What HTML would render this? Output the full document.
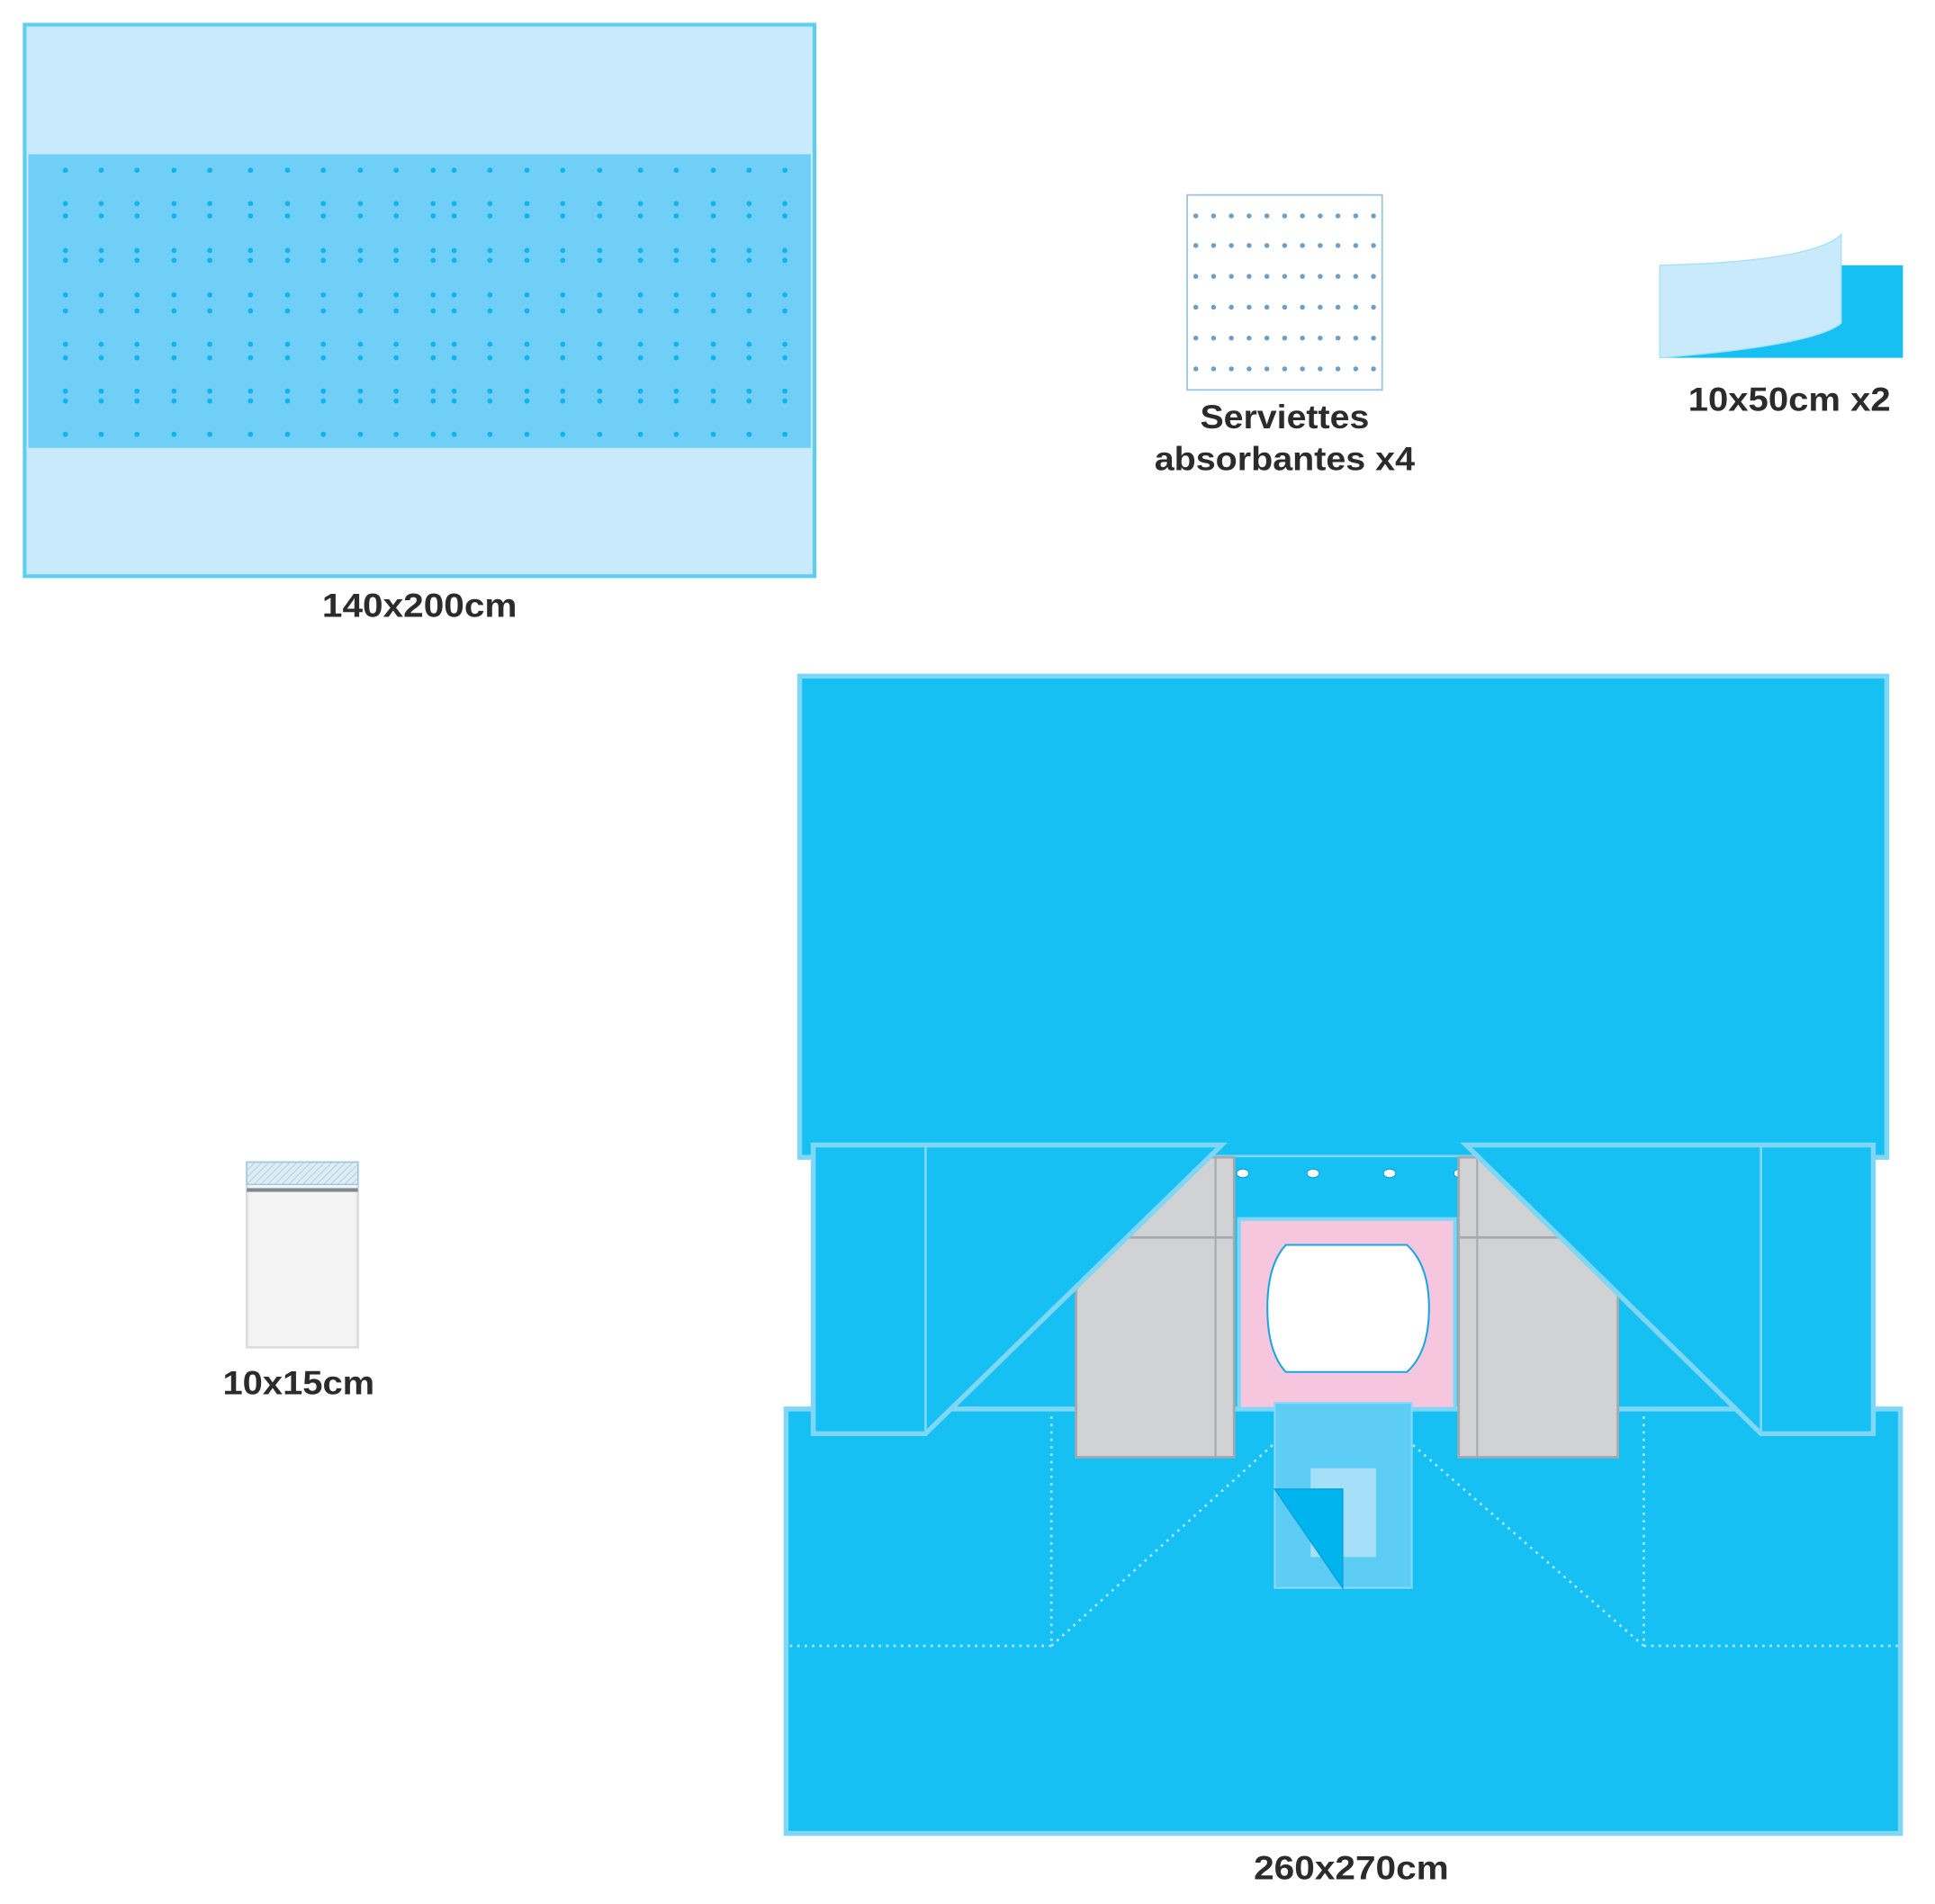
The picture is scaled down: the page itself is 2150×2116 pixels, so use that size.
<!DOCTYPE html>
<html><head><meta charset="utf-8"><style>html,body{margin:0;padding:0;background:#fff}svg{display:block}</style></head>
<body>
<svg width="2150" height="2116" viewBox="0 0 1568 1543.2" xmlns="http://www.w3.org/2000/svg" xmlns:xlink="http://www.w3.org/1999/xlink">
<defs>
<g id="row" fill="#12b3ec">
<circle cx="53" cy="0" r="2.1"/><circle cx="82" cy="0" r="2.1"/><circle cx="111" cy="0" r="2.1"/><circle cx="141" cy="0" r="2.1"/><circle cx="170" cy="0" r="2.1"/><circle cx="203" cy="0" r="2.1"/><circle cx="233" cy="0" r="2.1"/><circle cx="262" cy="0" r="2.1"/><circle cx="292" cy="0" r="2.1"/><circle cx="321" cy="0" r="2.1"/><circle cx="351" cy="0" r="2.1"/><circle cx="368" cy="0" r="2.1"/><circle cx="397" cy="0" r="2.1"/><circle cx="427" cy="0" r="2.1"/><circle cx="456" cy="0" r="2.1"/><circle cx="486" cy="0" r="2.1"/><circle cx="519" cy="0" r="2.1"/><circle cx="548" cy="0" r="2.1"/><circle cx="578" cy="0" r="2.1"/><circle cx="607" cy="0" r="2.1"/><circle cx="636" cy="0" r="2.1"/>
</g>
<g id="srow" fill="#6f9fc6">
<circle cx="969" cy="0" r="2"/><circle cx="983.4" cy="0" r="2"/><circle cx="997.8" cy="0" r="2"/><circle cx="1012.2" cy="0" r="2"/><circle cx="1026.6" cy="0" r="2"/><circle cx="1041" cy="0" r="2"/><circle cx="1055.4" cy="0" r="2"/><circle cx="1069.8" cy="0" r="2"/><circle cx="1084.2" cy="0" r="2"/><circle cx="1098.6" cy="0" r="2"/><circle cx="1113" cy="0" r="2"/>
</g>
<pattern id="hatch" width="4" height="4" patternUnits="userSpaceOnUse" patternTransform="rotate(45)">
<rect width="4" height="4" fill="#dcedf5"/><line x1="0" y1="0" x2="0" y2="4" stroke="#9dc3d4" stroke-width="1"/>
</pattern>
</defs>

<!-- 140x200 sheet -->
<rect x="20" y="20" width="640" height="447" fill="#c8eafb" stroke="#5ccdf3" stroke-width="3"/>
<rect x="23" y="125" width="634" height="238" fill="#6fcff6"/>
<use xlink:href="#row" y="138"/>
<use xlink:href="#row" y="165"/><use xlink:href="#row" y="175"/>
<use xlink:href="#row" y="203"/><use xlink:href="#row" y="211"/>
<use xlink:href="#row" y="239"/><use xlink:href="#row" y="252"/>
<use xlink:href="#row" y="279"/><use xlink:href="#row" y="290"/>
<use xlink:href="#row" y="317"/><use xlink:href="#row" y="325"/>
<use xlink:href="#row" y="352"/>
<text x="340" y="500" text-anchor="middle" font-family="Liberation Sans, sans-serif" font-weight="bold" font-size="27" fill="#2b2b2b" textLength="158" lengthAdjust="spacingAndGlyphs">140x200cm</text>

<!-- Serviettes -->
<rect x="962" y="158" width="158" height="158" fill="#fff" stroke="#9cc3de" stroke-width="1.3"/>
<use xlink:href="#srow" y="175"/><use xlink:href="#srow" y="199"/><use xlink:href="#srow" y="224"/><use xlink:href="#srow" y="249"/><use xlink:href="#srow" y="274"/><use xlink:href="#srow" y="299"/>
<text x="1041" y="347" text-anchor="middle" font-family="Liberation Sans, sans-serif" font-weight="bold" font-size="27" fill="#2b2b2b" textLength="137" lengthAdjust="spacingAndGlyphs">Serviettes</text>
<text x="1041" y="381" text-anchor="middle" font-family="Liberation Sans, sans-serif" font-weight="bold" font-size="27" fill="#2b2b2b" textLength="211" lengthAdjust="spacingAndGlyphs">absorbantes x4</text>

<!-- 10x50 -->
<rect x="1345" y="215" width="197" height="75" fill="#17c0f2"/>
<path d="M1345,215 Q1470,212 1492,190 L1492,262 Q1470,280 1345,290 Z" fill="#c8eafb" stroke="#a8e0f8" stroke-width="1"/>
<text x="1450" y="333" text-anchor="middle" font-family="Liberation Sans, sans-serif" font-weight="bold" font-size="27" fill="#2b2b2b" textLength="164" lengthAdjust="spacingAndGlyphs">10x50cm x2</text>

<!-- 10x15 -->
<rect x="200" y="942" width="90" height="150" fill="#f3f3f3" stroke="#dcdcdc" stroke-width="2"/>
<rect x="200" y="942" width="90" height="18" fill="url(#hatch)" stroke="#9dc9dc" stroke-width="1"/>
<rect x="200" y="963" width="90" height="3" fill="#7a8a90"/>
<text x="242" y="1130" text-anchor="middle" font-family="Liberation Sans, sans-serif" font-weight="bold" font-size="27" fill="#2b2b2b" textLength="123" lengthAdjust="spacingAndGlyphs">10x15cm</text>

<!-- main drape -->
<rect x="660" y="930" width="858" height="215" fill="#17c0f2"/>
<rect x="648" y="548" width="881" height="390" fill="#17c0f2" stroke="#7fd6f5" stroke-width="4"/>
<rect x="637" y="1142" width="903" height="344" fill="#17c0f2" stroke="#7fd6f5" stroke-width="4"/>
<!-- strip between flaps -->
<rect x="995" y="938" width="192" height="50" fill="#17c0f2"/>
<g fill="#fff" stroke="#0f9fd8" stroke-width="0.8">
<ellipse cx="1007" cy="951" rx="5" ry="3.5"/><ellipse cx="1064" cy="951" rx="5" ry="3.5"/><ellipse cx="1126" cy="951" rx="5" ry="3.5"/><ellipse cx="1183" cy="951" rx="5" ry="3.5"/>
</g>
<!-- dotted fold lines -->
<g stroke="#a9e4f8" stroke-width="2" stroke-dasharray="2,4" fill="none">
<path d="M640,1334 L852,1334 L852,1145"/>
<path d="M852,1334 L1060,1145"/>
<path d="M1538,1334 L1332,1334 L1332,1145"/>
<path d="M1332,1334 L1115,1145"/>
</g>
<!-- gray panels -->
<rect x="872" y="938" width="128" height="243" fill="#d1d2d4" stroke="#a7a9ac" stroke-width="2"/>
<line x1="985" y1="938" x2="985" y2="1181" stroke="#a7a9ac" stroke-width="1.5"/>
<line x1="900" y1="1003" x2="1000" y2="1003" stroke="#a7a9ac" stroke-width="2"/>
<rect x="1182" y="938" width="129" height="243" fill="#d1d2d4" stroke="#a7a9ac" stroke-width="2"/>
<line x1="1197" y1="938" x2="1197" y2="1181" stroke="#a7a9ac" stroke-width="1.5"/>
<line x1="1182" y1="1003" x2="1280" y2="1003" stroke="#a7a9ac" stroke-width="2"/>
<!-- flaps -->
<path d="M659,928 L990,928 L750,1162 L659,1162 Z" fill="#17c0f2" stroke="#7fd6f5" stroke-width="4"/>
<line x1="750" y1="928" x2="750" y2="1162" stroke="#7fd6f5" stroke-width="2"/>
<path d="M1518,928 L1188,928 L1427,1162 L1518,1162 Z" fill="#17c0f2" stroke="#7fd6f5" stroke-width="4"/>
<line x1="1427" y1="928" x2="1427" y2="1162" stroke="#7fd6f5" stroke-width="2"/>
<!-- pink -->
<rect x="1004" y="988" width="175" height="154" fill="#f6c6df" stroke="#7fd6f5" stroke-width="3"/>
<path d="M1042,1009 L1140,1009 Q1158,1025 1158,1060 Q1158,1096 1140,1112 L1042,1112 Q1027,1096 1027,1060 Q1027,1025 1042,1009 Z" fill="#fff" stroke="#1aa6e0" stroke-width="1.5"/>
<!-- pocket -->
<rect x="1033" y="1137" width="111" height="150" fill="#5ecdf5" stroke="#8ad9f6" stroke-width="1.5"/>
<rect x="1062" y="1190" width="53" height="72" fill="#a5e0f8"/>
<rect x="1075" y="1207" width="13" height="58" fill="#8fdcf8"/>
<path d="M1033,1207 L1088,1207 L1088,1287 Z" fill="#00b5ee" stroke="#0aa5df" stroke-width="1.2"/>
<text x="1095" y="1523" text-anchor="middle" font-family="Liberation Sans, sans-serif" font-weight="bold" font-size="27" fill="#2b2b2b" textLength="158" lengthAdjust="spacingAndGlyphs">260x270cm</text>
</svg>
</body></html>
